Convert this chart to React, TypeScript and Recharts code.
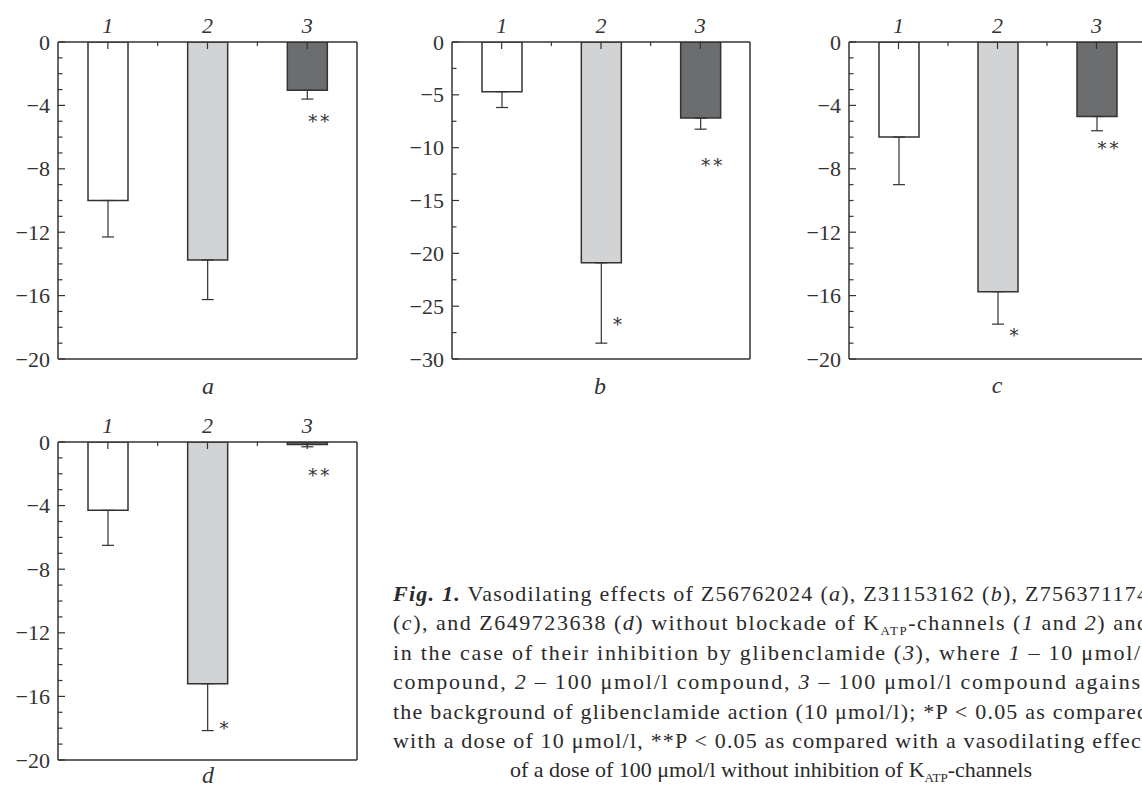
import React from "react";
import { ComposedChart, Bar, Cell, ErrorBar, Line, XAxis, YAxis } from "recharts";

const categories = ["1", "2", "3"];

// panel a
const meansA = [-10.0, -13.75, -3.05];
const errsA = [2.3, 2.5, 0.55];
const starsA = ["", "", "**"];
const starPosA = [null, null, -4.8];

// panel b
const meansB = [-4.7, -20.9, -7.2];
const errsB = [1.5, 7.6, 1.05];
const starsB = ["", "*", "**"];
const starPosB = [null, -26.4, -11.35];

// panel c
const meansC = [-6.0, -15.75, -4.7];
const errsC = [3.0, 2.05, 0.9];
const starsC = ["", "*", "**"];
const starPosC = [null, -18.3, -6.5];

// panel d
const meansD = [-4.3, -15.2, -0.15];
const errsD = [2.2, 2.95, 0.15];
const starsD = ["", "*", "**"];
const starPosD = [null, -17.8, -1.9];

const ticks20 = [0, -1, -2, -3, -4, -5, -6, -7, -8, -9, -10, -11, -12, -13, -14, -15, -16, -17, -18, -19, -20];
const major20 = [0, -4, -8, -12, -16, -20];
const ticks30 = [0, -2.5, -5, -7.5, -10, -12.5, -15, -17.5, -20, -22.5, -25, -27.5, -30];
const major30 = [0, -5, -10, -15, -20, -25, -30];

const fills = ["#ffffff", "#d2d3d5", "#6c6d6f"];
const INK = "#333333";
const SERIF = "'DejaVu Serif', serif";
const NUM = "'Liberation Serif', serif";

const fmt = (v: number) => (v === 0 ? "0" : "\u2212" + Math.abs(v));

function Panel({ left, top, plotW, plotH, means, errs, stars, starPos, domain, ticks, majors }: any) {
  const data = categories.map((name, i) => ({
    name,
    mean: means[i],
    err: [errs[i], 0],
    starY: starPos[i],
    star: stars[i],
  }));
  const width = plotW + 68;
  const height = 42 + plotH + 20;
  const bw = plotW / categories.length;

  const YTick = (p: any) => {
    const v = p.payload.value;
    const major = majors.includes(v);
    const x0 = p.x + 8;
    return (
      <g>
        <line x1={x0} x2={x0 + (major ? 7 : 4.5)} y1={p.y} y2={p.y} stroke={INK} strokeWidth={1.2} />
        {major && (
          <text x={p.x} y={p.y + 7.5} textAnchor="end" fontFamily={NUM} fontSize={22} fill={INK}>
            {fmt(v)}
          </text>
        )}
      </g>
    );
  };

  const XTick = (p: any) => {
    const y0 = p.y + 10;
    return (
      <g>
        <text x={p.x} y={p.y + 1} textAnchor="middle" fontFamily={NUM} fontStyle="italic" fontSize={22} fill={INK}>
          {p.payload.value}
        </text>
        <line x1={p.x} x2={p.x} y1={y0} y2={y0 + 7} stroke={INK} strokeWidth={1.2} />
        {p.index < categories.length - 1 && (
          <line x1={p.x + bw / 2} x2={p.x + bw / 2} y1={y0} y2={y0 + 4} stroke={INK} strokeWidth={1.2} />
        )}
      </g>
    );
  };

  const StarDot = (p: any) => {
    if (p.cy == null || !p.payload || !p.payload.star) return <g key={p.index} />;
    const dx = p.payload.star.length === 1 ? 18 : 13;
    return (
      <text key={p.index} x={p.cx + dx} y={p.cy + 10} textAnchor="middle" fontFamily={SERIF} fontSize={18} letterSpacing={3} fill={INK}>
        {p.payload.star}
      </text>
    );
  };

  const axisLine = { stroke: INK, strokeWidth: 1.5 };

  return (
    <div style={{ position: "absolute", left, top, width, height }}>
      <ComposedChart width={width} height={height} data={data} margin={{ top: 0, right: 8, bottom: 0, left: 8 }}>
        <XAxis
          xAxisId="t"
          orientation="top"
          dataKey="name"
          height={42}
          interval={0}
          tickSize={0}
          tickMargin={10}
          tickLine={false}
          tick={XTick}
          axisLine={axisLine}
        />
        <XAxis xAxisId="b" orientation="bottom" dataKey="name" height={20} tick={false} tickLine={false} axisLine={axisLine} />
        <YAxis
          yAxisId="l"
          width={50}
          domain={domain}
          ticks={ticks}
          interval={0}
          allowDataOverflow
          tickSize={0}
          tickMargin={8}
          tickLine={false}
          tick={YTick}
          axisLine={axisLine}
        />
        <YAxis yAxisId="r" orientation="right" width={2} domain={domain} tick={false} tickLine={false} axisLine={axisLine} />
        <Bar xAxisId="t" yAxisId="l" dataKey="mean" barSize={40} stroke={INK} strokeWidth={1.5} isAnimationActive={false}>
          {data.map((_, i) => (
            <Cell key={i} fill={fills[i]} />
          ))}
          <ErrorBar dataKey="err" direction="y" width={6} stroke={INK} strokeWidth={1.2} />
        </Bar>
        <Line
          xAxisId="t"
          yAxisId="l"
          dataKey="starY"
          stroke="none"
          dot={StarDot}
          activeDot={false}
          legendType="none"
          isAnimationActive={false}
        />
      </ComposedChart>
    </div>
  );
}

type Seg = [string, string];

const captionLines: Seg[][] = [
  [["b", "Fig. 1."], ["n", " Vasodilating effects of Z56762024 ("], ["i", "a"], ["n", "), Z31153162 ("], ["i", "b"], ["n", "), Z756371174"]],
  [["n", "("], ["i", "c"], ["n", "), and Z649723638 ("], ["i", "d"], ["n", ") without blockade of K"], ["s", "ATP"], ["n", "-channels ("], ["i", "1"], ["n", " and "], ["i", "2"], ["n", ") and"]],
  [["n", "in the case of their inhibition by glibenclamide ("], ["i", "3"], ["n", "), where "], ["i", "1"], ["n", " \u2013 10 \u03bcmol/l"]],
  [["n", "compound, "], ["i", "2"], ["n", " \u2013 100 \u03bcmol/l compound, "], ["i", "3"], ["n", " \u2013 100 \u03bcmol/l compound against"]],
  [["n", "the background of glibenclamide action (10 \u03bcmol/l); *P < 0.05 as compared"]],
  [["n", "with a dose of 10 \u03bcmol/l, **P < 0.05 as compared with a vasodilating effect"]],
  [["n", "of a dose of 100 \u03bcmol/l without inhibition of K"], ["s", "ATP"], ["n", "-channels"]],
];

function Segs({ segs }: { segs: Seg[] }) {
  return (
    <>
      {segs.map(([k, t], j) => {
        const prevSub = j > 0 && segs[j - 1][0] === "s";
        if (k === "s")
          return (
            <tspan key={j} fontSize={13} dy={5}>
              {t}
            </tspan>
          );
        return (
          <tspan
            key={j}
            dy={prevSub ? -5 : 0}
            fontStyle={k === "i" || k === "b" ? "italic" : "normal"}
            fontWeight={k === "b" ? "bold" : "normal"}
          >
            {t}
          </tspan>
        );
      })}
    </>
  );
}

function Overlay() {
  const letters = [
    { t: "a", x: 208, y: 394 },
    { t: "b", x: 600, y: 394 },
    { t: "c", x: 997, y: 393 },
    { t: "d", x: 208, y: 783 },
  ];
  return (
    <svg width={1142} height={787} style={{ position: "absolute", left: 0, top: 0, pointerEvents: "none" }}>
      {letters.map((l) => (
        <text key={l.t} x={l.x} y={l.y} textAnchor="middle" fontFamily={NUM} fontStyle="italic" fontSize={24} fill={INK}>
          {l.t}
        </text>
      ))}
      <g fontFamily={NUM} fontSize={22} fill="#2a2a2a" style={{ whiteSpace: "pre" }}>
        {captionLines.map((segs, i) =>
          i < captionLines.length - 1 ? (
            <text key={i} x={393} y={601 + 29.4 * i} textLength={755} lengthAdjust="spacing">
              <Segs segs={segs} />
            </text>
          ) : (
            <text key={i} x={771} y={601 + 29.4 * i} textAnchor="middle">
              <Segs segs={segs} />
            </text>
          )
        )}
      </g>
    </svg>
  );
}

export default function App() {
  return (
    <div style={{ position: "fixed", left: 0, top: 0, width: 1142, height: 787, overflow: "hidden", background: "#fff" }}>
      <Panel left={0} top={0} plotW={299} plotH={317} means={meansA} errs={errsA} stars={starsA} starPos={starPosA} domain={[-20, 0]} ticks={ticks20} majors={major20} />
      <Panel left={394} top={0} plotW={298} plotH={317} means={meansB} errs={errsB} stars={starsB} starPos={starPosB} domain={[-30, 0]} ticks={ticks30} majors={major30} />
      <Panel left={791} top={0} plotW={297} plotH={317} means={meansC} errs={errsC} stars={starsC} starPos={starPosC} domain={[-20, 0]} ticks={ticks20} majors={major20} />
      <Panel left={0} top={400} plotW={299} plotH={318} means={meansD} errs={errsD} stars={starsD} starPos={starPosD} domain={[-20, 0]} ticks={ticks20} majors={major20} />
      <Overlay />
    </div>
  );
}
